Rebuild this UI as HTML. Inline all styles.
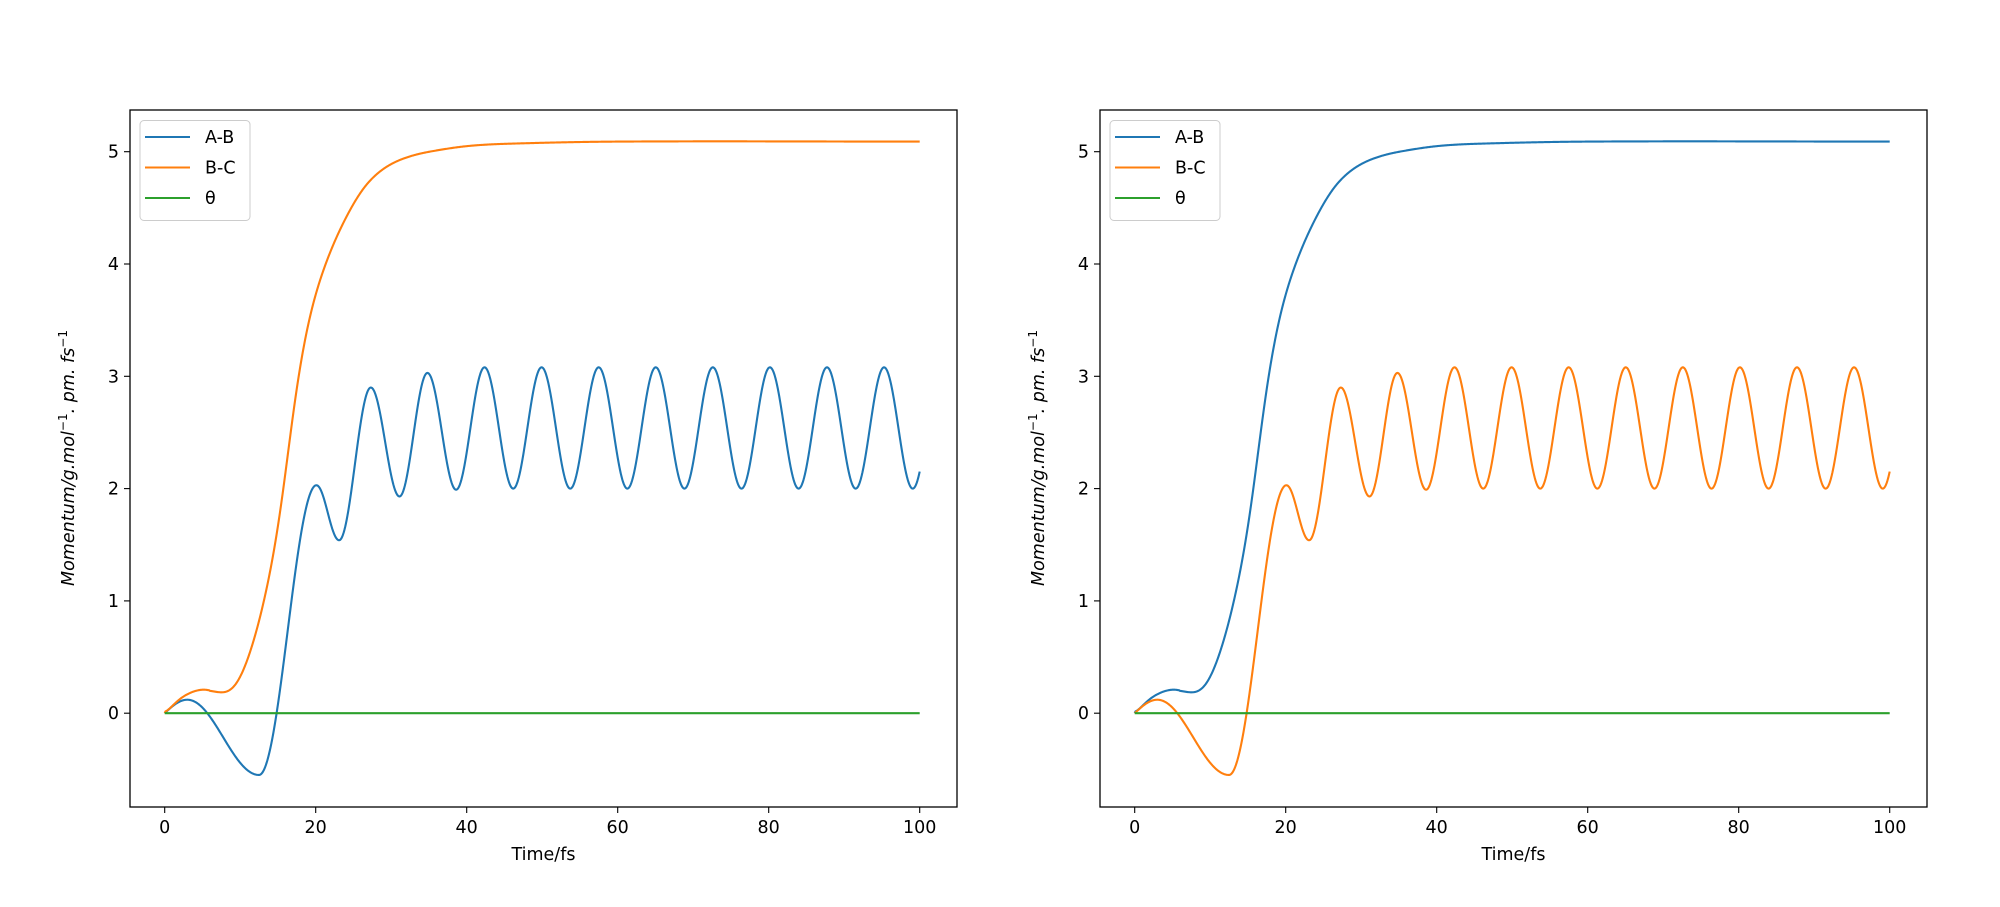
<!DOCTYPE html>
<html><head><meta charset="utf-8"><style>
html,body{margin:0;padding:0;background:#fff;}
svg{display:block;font-family:"DejaVu Sans","Liberation Sans",sans-serif;}
</style></head><body>
<svg id="s" width="2000" height="907" viewBox="0 0 2000 907" xmlns="http://www.w3.org/2000/svg"></svg>
<script>
const S=document.getElementById('s');
const NS='http://www.w3.org/2000/svg';
function el(t,a,txt){const e=document.createElementNS(NS,t);for(const k in a)e.setAttribute(k,a[k]);if(txt!==undefined)e.textContent=txt;S.appendChild(e);return e;}
const Y0=713.2, YU=112.3;
const ext=[[0,0],[3,0.12],[12.5,-0.55],[20.1,2.03],[23.1,1.54],[27.3,2.90],[31.1,1.93],[34.8,3.03],[38.6,1.99]];
let lp=34.8,lm=38.6,P=7.56;
for(let k=1;k<12;k++){ext.push([lp+P*k,3.08]);ext.push([lm+P*k,2.0]);}
ext.sort((a,b)=>a[0]-b[0]);
function osc(t){
  for(let i=0;i<ext.length-1;i++){const a=ext[i],b=ext[i+1];
    if(t>=a[0]&&t<=b[0]){const s=(t-a[0])/(b[0]-a[0]);
      if(i==0) return a[1]+(b[1]-a[1])*Math.sin(s*Math.PI/2);
      return a[1]+(b[1]-a[1])*(1-Math.cos(Math.PI*s))/2;}}
  return 2;
}
const kp=[[0,0],[2.5,0.15],[5,0.21],[8.5,0.18],[10,0.3],[12,0.68],[14,1.25],[15.5,1.85],[17.3,2.85],[19.2,3.55],[21,3.95],[23,4.28],[25.9,4.64],[28,4.80],[30.2,4.90],[33,4.97],[35.9,5.01],[40,5.05],[45,5.07],[60,5.09],[100,5.09]];
function sig0(t){
  for(let i=0;i<kp.length-1;i++){const p1=kp[i],p2=kp[i+1];
    if(t>=p1[0]&&t<=p2[0]){const p0=kp[Math.max(0,i-1)],p3=kp[Math.min(kp.length-1,i+2)];
      const h=p2[0]-p1[0],s=(t-p1[0])/h;
      const m1=(p2[1]-p0[1])/(p2[0]-p0[0])*h, m2=(p3[1]-p1[1])/(p3[0]-p1[0])*h;
      const s2=s*s,s3=s2*s;
      return (2*s3-3*s2+1)*p1[1]+(s3-2*s2+s)*m1+(-2*s3+3*s2)*p2[1]+(s3-s2)*m2;}}
  return 5.09;
}
const SG=[];
for(let i=0;i<=1000;i++){const t=i*0.1;let sw=0,sv=0;const sig=t<6?0.3:0.9;
  for(let j=-30;j<=30;j++){const u=t+j*0.1;if(u<0||u>100)continue;const w=Math.exp(-(j*0.1)*(j*0.1)/(2*sig*sig));sw+=w;sv+=w*sig0(u);}
  SG.push(sv/sw);}
SG[0]=0;
function sig(t){return SG[Math.min(1000,Math.round(t*10))];}
function panel(off){
  const L=130+off,R=957+off,T=110,B=807,X0=164.7+off,XU=7.55;
  const px=t=>X0+t*XU, py=v=>Y0-v*YU;
  function path(f,c){let d='';for(let t=0;t<=100.0001;t+=0.1){d+=(d?'L':'M')+px(t).toFixed(2)+' '+py(f(t)).toFixed(2);}
    el('path',{d:d,fill:'none',stroke:c,'stroke-width':2.1,'stroke-linejoin':'round'});}
  path(off?sig:osc,'#1f77b4');
  path(off?osc:sig,'#ff7f0e');
  el('line',{x1:px(0),y1:py(0),x2:px(100),y2:py(0),stroke:'#2ca02c','stroke-width':2.1});
  el('rect',{x:L,y:T,width:R-L,height:B-T,fill:'none',stroke:'#000','stroke-width':1.3});
  for(let v=0;v<=100;v+=20){const x=px(v);el('line',{x1:x,y1:B,x2:x,y2:B+6,stroke:'#000','stroke-width':1.1});
    el('text',{x:x,y:B+26,'font-size':17.5,'text-anchor':'middle',fill:'#000'},String(v));}
  for(let v=0;v<=5;v++){const y=py(v);el('line',{x1:L,y1:y,x2:L-6,y2:y,stroke:'#000','stroke-width':1.1});
    el('text',{x:L-11,y:y+6,'font-size':17.5,'text-anchor':'end',fill:'#000'},String(v));}
  el('text',{x:(L+R)/2,y:B+53,'font-size':17.5,'text-anchor':'middle',fill:'#000'},'Time/fs');
  const yl=el('text',{x:0,y:0,'font-size':17.5,'text-anchor':'middle',fill:'#000',transform:`translate(${74+off},458) rotate(-90)`});
  yl.innerHTML='<tspan font-style="italic">Momentum/g.mol</tspan><tspan font-size="12" dy="-7">−1</tspan><tspan dy="7" font-style="italic">. pm. fs</tspan><tspan font-size="12" dy="-7">−1</tspan>';
  el('rect',{x:L+10,y:T+10.5,width:110,height:100,rx:4,fill:'#fff','fill-opacity':0.8,stroke:'#ccc','stroke-width':1});
  const items=[['A-B','#1f77b4'],['B-C','#ff7f0e'],['θ','#2ca02c']];
  items.forEach((it,i)=>{const y=T+27+i*30.5;
    el('line',{x1:L+15,y1:y,x2:L+60,y2:y,stroke:it[1],'stroke-width':2.1});
    el('text',{x:L+75,y:y+6,'font-size':17.5,fill:'#000'},it[0]);});
}
panel(0);
panel(970);
</script>
</body></html>
